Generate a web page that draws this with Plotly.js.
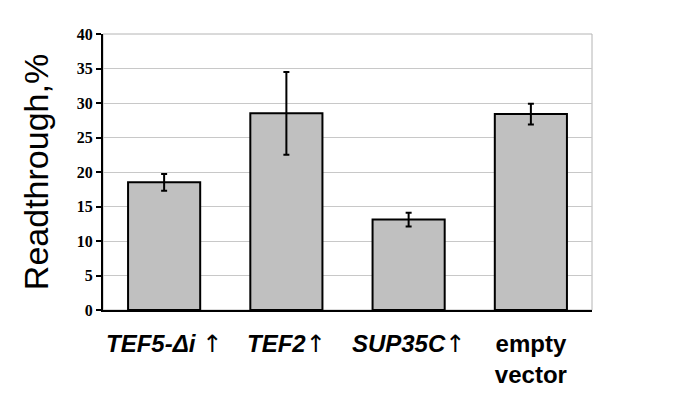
<!DOCTYPE html>
<html>
<head>
<meta charset="utf-8">
<script src="https://cdn.plot.ly/plotly-3.0.1.min.js"></script>
<style>
body{margin:0;background:#fff;}
#chart{width:685px;height:418px;}
</style>
</head>
<body>
<div id="chart"></div>
<script>
// ================= DATA =================
let categories = ["TEF5-di", "TEF2", "SUP35C", "empty vector"];
let arrow = '<span style="font-family:DejaVu Sans;font-weight:normal">↑</span>';
let tickLabels = [
"<b><i>TEF5-Δi</i></b> " + arrow,
"<b><i>TEF2</i></b>" + arrow,
"<b><i>SUP35C</i></b>" + arrow,
"<b>empty</b><br><b>vector</b>"
];
let readthrough = [18.5, 28.5, 13.1, 28.4];
let errors = [1.2, 6.0, 1.0, 1.5];
let yTicks = [0, 5, 10, 15, 20, 25, 30, 35, 40];

// ================= CHART =================
let trace = {
x: categories,
y: readthrough,
type: "bar",
marker: {color: "#c0c0c0", line: {color: "#000", width: 2}},
error_y: {type: "data", array: errors, visible: true, color: "#000", thickness: 2, width: 3},
hoverinfo: "none"
};

let layout = {
width: 685,
height: 418,
margin: {l: 103, r: 93, t: 34, b: 108},
paper_bgcolor: "#fff",
plot_bgcolor: "#fff",
showlegend: false,
bargap: 0.41,
xaxis: {
tickvals: categories,
ticktext: tickLabels,
tickfont: {family: "Liberation Sans, Arial", size: 24, color: "#000"},
showline: true,
linecolor: "#000",
linewidth: 2,
ticks: "",
showgrid: false,
ticklabelstandoff: 11
},
yaxis: {
range: [0, 40],
tickvals: yTicks,
tickfont: {family: "Liberation Serif, Times New Roman", size: 16, color: "#000", weight: "bold"},
showline: true,
linecolor: "#000",
linewidth: 2,
ticks: "outside",
ticklen: 5,
tickwidth: 2,
tickcolor: "#000",
gridcolor: "#c8c8c8",
gridwidth: 1,
zeroline: false,
title: {text: "Readthrough,%", font: {family: "Liberation Sans, Arial", size: 34, color: "#000"}, standoff: 18}
},
shapes: [{
type: "rect", xref: "paper", yref: "paper", x0: 0, x1: 1, y0: 0, y1: 1,
line: {color: "#b4b4b4", width: 1}, layer: "below"
}]
};

Plotly.newPlot("chart", [trace], layout, {staticPlot: true});
</script>
</body>
</html>
